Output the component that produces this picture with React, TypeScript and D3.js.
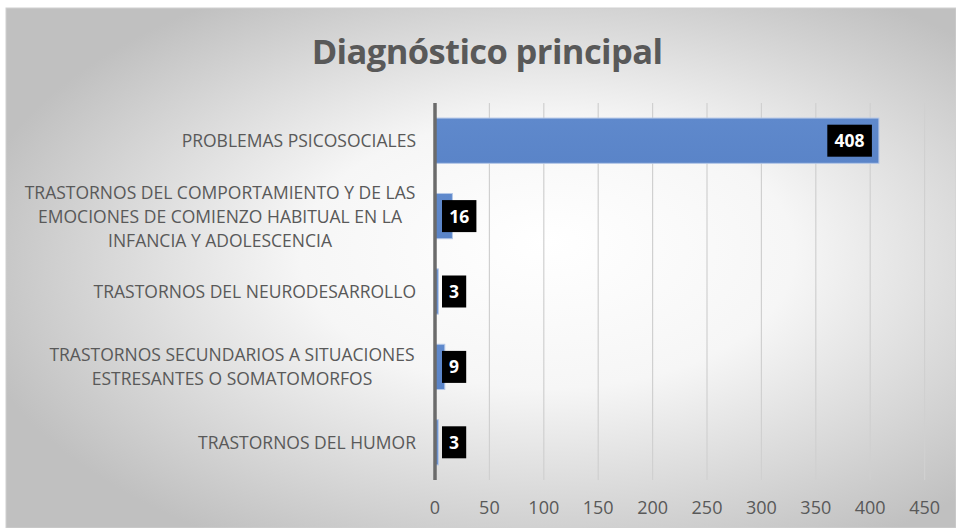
import React from "react";
import * as d3 from "d3";

const categories: string[][] = [
  ["PROBLEMAS PSICOSOCIALES"],
  ["TRASTORNOS DEL COMPORTAMIENTO Y DE LAS", "EMOCIONES DE COMIENZO HABITUAL EN LA", "INFANCIA Y ADOLESCENCIA"],
  ["TRASTORNOS DEL NEURODESARROLLO"],
  ["TRASTORNOS SECUNDARIOS A SITUACIONES", "ESTRESANTES O SOMATOMORFOS"],
  ["TRASTORNOS DEL HUMOR"],
];
const values: number[] = [408, 16, 3, 9, 3];
const xTicks: number[] = [0, 50, 100, 150, 200, 250, 300, 350, 400, 450];
const title = "Diagnóstico principal";

const W = 956;
const H = 528;
const FONT = "'Open Sans', 'Noto Sans', sans-serif";

export default function App() {
  const x0 = 435;
  const x1 = 924.6;
  const yTop = 103;
  const yBot = 480;
  const x = d3.scaleLinear().domain([0, 450]).range([x0, x1]);
  const y = d3
    .scaleBand<number>()
    .domain(values.map((_, i) => i))
    .range([yTop, yBot])
    .paddingInner(0.4)
    .paddingOuter(0.2);

  const labelW = (v: number) => String(v).length * 10.2 + 14;

  return (
    <svg
      width={W}
      height={H}
      style={{ position: "absolute", left: 0, top: 0, display: "block" }}
      fontFamily={FONT}
    >
      <defs>
        <radialGradient id="bg" cx="0.57" cy="0.5" r="0.62" fx="0.57" fy="0.45">
          <stop offset="0" stopColor="#ffffff" />
          <stop offset="0.42" stopColor="#f6f6f6" />
          <stop offset="1" stopColor="#c0c0c0" />
        </radialGradient>
        <linearGradient id="bar" x1="0" y1="0" x2="0" y2="1">
          <stop offset="0" stopColor="#5f89cc" />
          <stop offset="1" stopColor="#5a84c8" />
        </linearGradient>
      </defs>
      <rect x={0} y={0} width={W} height={H} fill="#ffffff" />
      <rect x={6} y={8} width={W - 6} height={H - 8} fill="url(#bg)" stroke="#d0d0d0" strokeWidth={1} />

      <text
        x={487}
        y={64}
        textAnchor="middle"
        fontSize={34.5}
        fontWeight={700}
        fill="#595959"
        letterSpacing={-0.6}
      >
        {title}
      </text>

      {/* gridlines */}
      {xTicks.slice(1).map((t) => (
        <line key={t} x1={x(t)} x2={x(t)} y1={yTop} y2={yBot} stroke="#d0d0d0" strokeWidth={1.2} />
      ))}

      {/* bars */}
      {values.map((v, i) => (
        <rect
          key={i}
          x={x(0)}
          y={y(i)!}
          width={Math.max(x(v) - x(0), 0)}
          height={y.bandwidth()}
          fill="url(#bar)"
          stroke="#b4c7e7"
          strokeWidth={1}
        />
      ))}

      {/* axis line */}
      <line x1={x(0)} x2={x(0)} y1={yTop} y2={yBot} stroke="#6b6b6b" strokeWidth={3.5} />

      {/* tick labels */}
      {xTicks.map((t) => (
        <text key={t} x={x(t)} y={514} textAnchor="middle" fontSize={18} fill="#595959">
          {t}
        </text>
      ))}

      {/* category labels */}
      {categories.map((lines, i) => {
        const cy = y(i)! + y.bandwidth() / 2;
        const lh = 24;
        const startY = cy - ((lines.length - 1) * lh) / 2 + 6.5;
        if (lines.length === 1) {
          return (
            <text key={i} x={416} y={startY} textAnchor="end" fontSize={17.5} fill="#595959">
              {lines[0]}
            </text>
          );
        }
        return (
          <text key={i} fontSize={17.5} fill="#595959" textAnchor="middle">
            {lines.map((l, j) => (
              <tspan key={j} x={i === 1 ? 220 : 232} y={startY + j * lh}>
                {l}
              </tspan>
            ))}
          </text>
        );
      })}

      {/* data labels */}
      {values.map((v, i) => {
        const w = labelW(v);
        const h = 32;
        const bx = Math.max(x(v) - 7 - w, x(0) + 7);
        const cy = y(i)! + y.bandwidth() / 2;
        return (
          <g key={i}>
            <rect x={bx} y={cy - h / 2} width={w} height={h} fill="#000000" />
            <text
              x={bx + w / 2}
              y={cy + 6.5}
              textAnchor="middle"
              fontSize={17.5}
              fontWeight={700}
              fill="#ffffff"
            >
              {v}
            </text>
          </g>
        );
      })}
    </svg>
  );
}
